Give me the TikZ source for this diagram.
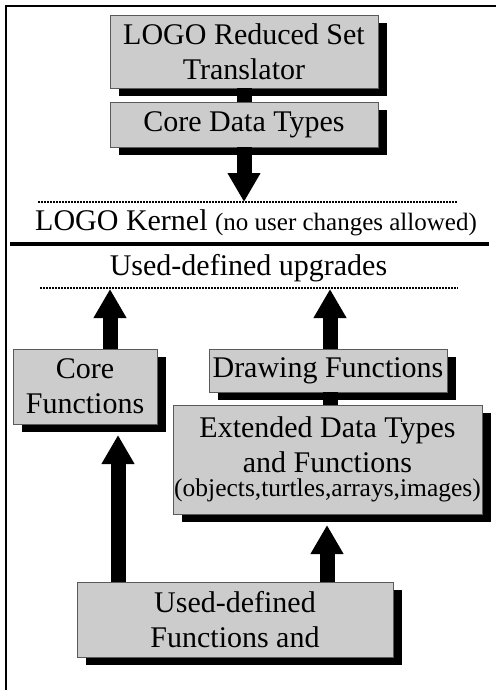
\documentclass[tikz,border=0pt]{standalone}
\usepackage{fontspec}
\setmainfont{Liberation Serif}
\usetikzlibrary{arrows.meta,shadows,calc}
\definecolor{boxfill}{RGB}{204,204,204}
\definecolor{boxline}{RGB}{90,90,90}
\begin{document}
\begin{tikzpicture}[x=1pt,y=-1pt,
  box/.style={draw=boxline, fill=boxfill, line width=0.8pt, inner sep=0pt, align=center,
    font=\fontsize{30}{35}\selectfont,
    drop shadow={shadow xshift=9pt, shadow yshift=-8pt, fill=black, opacity=1}},
  bigarrow/.style={line width=15pt, -{Triangle[width=31pt,length=29pt]}},
  bar/.style={line width=15pt},
  dotline/.style={line width=1.5pt, dash pattern=on 1.5pt off 1.5pt},
  frameline/.style={line width=2pt, line join=miter},
  bigtext/.style={inner sep=0pt, font=\fontsize{30}{35}\selectfont}]
\useasboundingbox (0,0) rectangle (496,690);

% frame
\coordinate (fa) at (496,6.5);
\coordinate (fb) at (6,6.5);
\coordinate (fc) at (6,690);
\draw[frameline] (fa) -- (fb) -- (fc);

% boxes
\node[box, minimum width=268pt, minimum height=73pt] (trans) at (244,51.5) {LOGO Reduced Set\\Translator};
\node[box, minimum width=268pt, minimum height=45pt] (cdt) at (244,124.5) {Core Data Types};
\node[box, minimum width=144pt, minimum height=75pt] (cf) at (85,386.5) {Core\\Functions};
\node[box, minimum width=238pt, minimum height=43pt] (df) at (328,370.5) {Drawing Functions};
\node[box, minimum width=309pt, minimum height=109pt] (ext) at (327.5,459.5)
  {Extended Data Types\\and Functions\\[-11pt]{\fontsize{25.5}{28}\selectfont (objects,turtles,arrays,images)}};
\node[box, minimum width=316pt, minimum height=75pt] (udf) at (235,619.5) {Used-defined\\Functions and};

% texts
\node[bigtext, anchor=base west] (kernel) at (35,230)
  {LOGO Kernel {\fontsize{25}{28}\selectfont (no user changes allowed)}};
\node[bigtext, anchor=base] (upg) at (248.5,275) {Used-defined upgrades};

% lines
\coordinate (d1l) at (38,202);
\coordinate (d1r) at (457,202);
\draw[dotline] (d1l) -- (d1r);
\coordinate (d2l) at (40,288);
\coordinate (d2r) at (458,288);
\draw[dotline] (d2l) -- (d2r);
\coordinate (kl) at (10,244);
\coordinate (kr) at (489,244);
\draw[line width=4pt] (kl) -- (kr);

% connectors
\draw[bar] (trans.south) -- (cdt.north);
\coordinate (t1) at (244,202);
\draw[bigarrow] (cdt.south) -- (t1);
\coordinate (t2) at (110,289);
\draw[bigarrow] (cf.north -| t2) -- (t2);
\coordinate (t3) at (330,289);
\draw[bigarrow] (df.north -| t3) -- (t3);
\draw[bar] (df.south -| t3) -- (ext.north -| t3);
\coordinate (t4) at (118,435);
\draw[bigarrow] (udf.north -| t4) -- (t4);
\coordinate (t5) at (327,525);
\draw[bigarrow] (udf.north -| t5) -- (t5);
\end{tikzpicture}
\end{document}
